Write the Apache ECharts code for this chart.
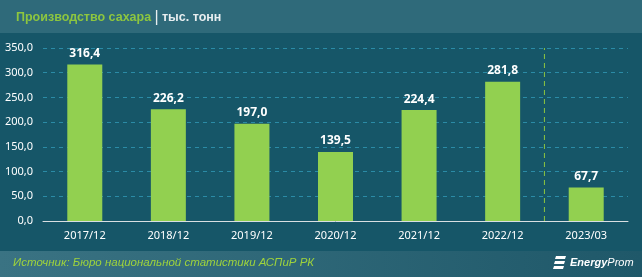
<!DOCTYPE html>
<html><head><meta charset="utf-8">
<script src="https://cdn.jsdelivr.net/npm/echarts@6/dist/echarts.min.js"></script>
<style>html,body{margin:0;padding:0;background:#165668;}#c{width:642px;height:277px;}</style>
</head><body><div id="c"></div>
<script>
const categories = ['2017/12','2018/12','2019/12','2020/12','2021/12','2022/12','2023/03'];
const values = [316.4, 226.2, 197.0, 139.5, 224.4, 281.8, 67.7];
const yTicks = [0, 50, 100, 150, 200, 250, 300, 350];
const dividerAt = [5.5]; // between 2022/12 and 2023/03
const titleMain = 'Производство сахара';
const titleUnit = 'тыс. тонн';
const sourceText = 'Источник: Бюро национальной статистики АСПиР РК';
const fmt = v => v.toFixed(1).replace('.', ',');
const FONT = 'Noto Sans';
const chart = echarts.init(document.getElementById('c'), null, {renderer:'canvas'});
chart.setOption({
  backgroundColor: '#165668',
  animation: false,
  textStyle: {fontFamily: FONT},
  graphic: [
    {type:'rect', shape:{x:0,y:0,width:642,height:33}, style:{fill:'#2f6a7a'}, z:-1},
    {type:'rect', shape:{x:0,y:251,width:642,height:26}, style:{fill:new echarts.graphic.LinearGradient(0,0,1,0,[{offset:0,color:'#3a7383'},{offset:1,color:'#1f5869'}])}, z:-1},
    {type:'text', left:16, top:10, style:{
      text:'{a|' + titleMain + '} {b||} {c|' + titleUnit + '}',
      rich:{
        a:{fill:'#8dc63f', font:'bold 12.5px "Liberation Sans"', verticalAlign:'middle'},
        b:{fill:'#e8eef0', font:'16px "Liberation Sans"', verticalAlign:'middle'},
        c:{fill:'#e8eef0', font:'bold 12.5px "Liberation Sans"', verticalAlign:'middle'}
      }}},
    {type:'text', x:13, y:257, style:{text:sourceText, fill:'#9fd33c', font:'italic 11.5px "Liberation Sans"'}},
    {type:'group', left:553, top:256, children:[
      {type:'polygon', shape:{points:[[3,0],[13,0],[12,3],[2,3]]}, style:{fill:'#ffffff'}},
      {type:'polygon', shape:{points:[[2,5],[12,5],[11,8],[1,8]]}, style:{fill:'#ffffff'}},
      {type:'polygon', shape:{points:[[1,10],[11,10],[10,13],[0,13]]}, style:{fill:'#ffffff'}},
      {type:'text', left:17, top:1, style:{text:'{e|Energy}{p|Prom}', rich:{
        e:{fill:'#ffffff', font:'italic bold 11px "Liberation Sans"'},
        p:{fill:'#ffffff', font:'italic 11px "Liberation Sans"'}
      }}}
    ]}
  ],
  grid: {left:43, right:14, top:48, bottom:56},
  xAxis: [{
    type:'category', data:categories,
    axisLine:{lineStyle:{color:'#d9dfe2', width:1}},
    axisTick:{show:false},
    axisLabel:{color:'#ffffff', fontSize:11, margin:9}
  },{
    type:'value', min:-0.5, max:categories.length - 0.5, show:false
  }],
  yAxis: {
    type:'value', min:0, max:350, interval:50,
    axisLine:{show:false}, axisTick:{show:false},
    axisLabel:{color:'#ffffff', fontSize:11, margin:10, formatter:v => yTicks.includes(v) ? fmt(v) : ''},
    splitLine:{lineStyle:{color:'#2b8ba6', type:[4,4], width:1}}
  },
  series: [{
    type:'bar', data:values, barWidth:35,
    itemStyle:{color:'#92d050'},
    label:{show:true, position:'top', distance:5, color:'#ffffff', fontWeight:'bold', fontSize:12, formatter:p => fmt(p.value)}
  },{
    type:'line', xAxisIndex:1, symbol:'none', silent:true,
    data:[[dividerAt[0], 0], [dividerAt[0], 350]],
    lineStyle:{color:'#8dc63f', type:[5,4], width:1}, z:1
  }]
});
</script></body></html>
